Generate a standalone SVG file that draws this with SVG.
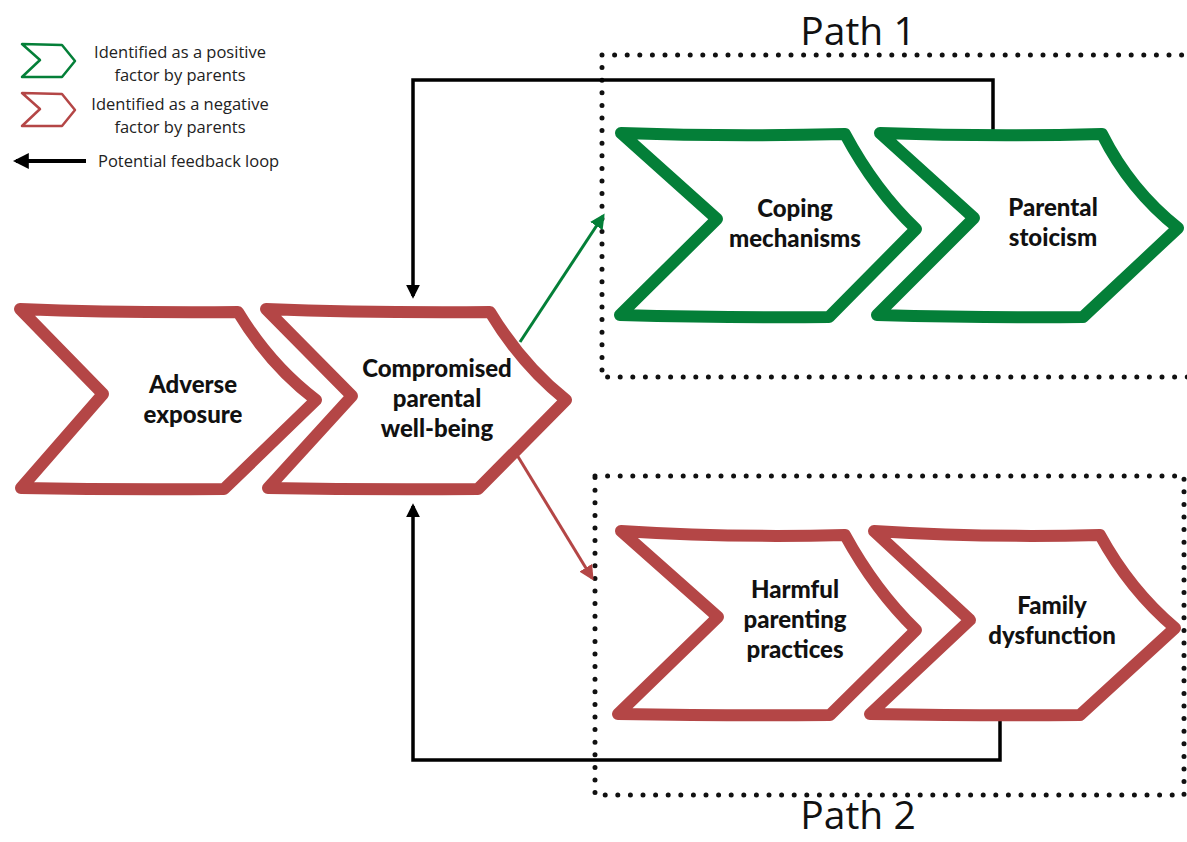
<svg xmlns="http://www.w3.org/2000/svg" width="1187" height="842" viewBox="0 0 1187 842">
<defs>
<style>
.chev{fill:#fff;stroke-width:12;stroke-linejoin:round;stroke-linecap:round}
.g{stroke:#047f38}
.r{stroke:#b44646}
.lab{font-family:"Lato","Noto Sans",sans-serif;font-weight:900;font-size:24px;fill:#111;text-anchor:middle}
.leg{font-family:"Open Sans","Noto Sans",sans-serif;font-size:16.5px;fill:#222}
.path{font-family:"Open Sans","Noto Sans",sans-serif;font-weight:400;font-size:39px;fill:#111;text-anchor:middle}
.box{fill:none;stroke:#111;stroke-width:5;stroke-linecap:round;stroke-dasharray:0 12.6}
.loop{fill:none;stroke:#000;stroke-width:3.5}
</style>
<marker id="ak" viewBox="0 0 10 10" refX="8" refY="5" markerWidth="4" markerHeight="4" orient="auto"><path d="M0,0 L10,5 L0,10 z" fill="#000"/></marker>
<marker id="ag" viewBox="0 0 10 10" refX="8" refY="5" markerWidth="5" markerHeight="5" orient="auto"><path d="M0,0 L10,5 L0,10 z" fill="#047f38"/></marker>
<marker id="ar" viewBox="0 0 10 10" refX="8" refY="5" markerWidth="5" markerHeight="5" orient="auto"><path d="M0,0 L10,5 L0,10 z" fill="#b44646"/></marker>
</defs>
<rect width="1187" height="842" fill="#fff"/>

<g id="legend">
<path d="M22,44 L62,45 L75,61 L62,77 L22,77 L40,60 Z" fill="none" stroke="#047f38" stroke-width="2.5" stroke-linejoin="round"/>
<text class="leg" x="180" y="58" text-anchor="middle">Identified as a positive</text>
<text class="leg" x="180" y="81" text-anchor="middle">factor by parents</text>
<path d="M22,93 L62,94 L75,110 L62,126 L22,126 L40,109 Z" fill="none" stroke="#b44646" stroke-width="2.5" stroke-linejoin="round"/>
<text class="leg" x="180" y="110" text-anchor="middle">Identified as a negative</text>
<text class="leg" x="180" y="133" text-anchor="middle">factor by parents</text>
<line x1="86" y1="161" x2="16" y2="161" stroke="#000" stroke-width="4" marker-end="url(#ak)"/>
<text class="leg" x="98" y="167">Potential feedback loop</text>
</g>

<g id="path1">
<path class="box" d="M602,55 H1190 M602,55 V377 H1190"/>
<text class="path" x="858" y="45">Path 1</text>
</g>
<g id="path2">
<path class="box" d="M595,476 H1184 V795 H595 Z"/>
<text class="path" x="858" y="829">Path 2</text>
</g>

<g id="connectors">
<path class="loop" d="M993,130 V80 H413 V296" marker-end="url(#ak)"/>
<path class="loop" d="M1000,716 V760 H413 V506" marker-end="url(#ak)"/>
<line x1="520" y1="342" x2="603" y2="216" stroke="#047f38" stroke-width="3" marker-end="url(#ag)"/>
<line x1="517" y1="455" x2="592" y2="578" stroke="#b44646" stroke-width="3" marker-end="url(#ar)"/>
</g>

<g id="adverse">
<path class="chev r" d="M20,309 Q120,313 238,312 Q270,365 316,400 L224,489 Q120,490 21,488 L103,394 Z"/>
<text class="lab" x="193" y="393">Adverse</text>
<text class="lab" x="193" y="423">exposure</text>
</g>
<g id="compromised">
<path class="chev r" d="M266,309 Q370,313 490,312 Q522,365 566,400 L478,489 Q370,490 268,488 L352,396 Z"/>
<text class="lab" x="437" y="377">Compromised</text>
<text class="lab" x="437" y="407">parental</text>
<text class="lab" x="437" y="437">well-being</text>
</g>
<g id="coping">
<path class="chev g" d="M621,133 Q730,137 845,134 Q875,190 916,229 L829,317 Q730,318 620,315 L717,219 Z"/>
<text class="lab" x="795" y="217">Coping</text>
<text class="lab" x="795" y="247">mechanisms</text>
</g>
<g id="stoicism">
<path class="chev g" d="M880,133 Q990,137 1102,134 Q1130,190 1178,228 L1083,317 Q990,318 877,315 L974,218 Z"/>
<text class="lab" x="1053" y="216">Parental</text>
<text class="lab" x="1053" y="246">stoicism</text>
</g>
<g id="harmful">
<path class="chev r" d="M621,531 Q730,538 845,535 Q875,590 916,630 L830,715 Q730,716 618,714 L718,617 Z"/>
<text class="lab" x="795" y="598">Harmful</text>
<text class="lab" x="795" y="628">parenting</text>
<text class="lab" x="795" y="658">practices</text>
</g>
<g id="family">
<path class="chev r" d="M874,531 Q985,538 1100,535 Q1130,590 1175,628 L1080,715 Q985,716 870,714 L970,620 Z"/>
<text class="lab" x="1052" y="614">Family</text>
<text class="lab" x="1052" y="644">dysfunction</text>
</g>
</svg>
